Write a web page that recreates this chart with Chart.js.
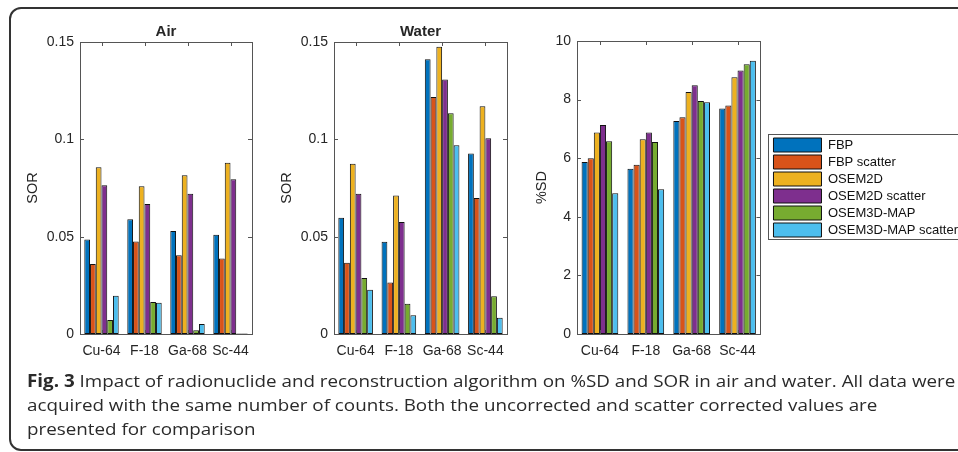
<!DOCTYPE html>
<html lang="en">
<head>
  <meta charset="UTF-8">
  <title>Fig. 3</title>
  <script src="https://cdn.jsdelivr.net/npm/chart.js"></script>
  <style>
    html, body { margin: 0; padding: 0; background: #fff; }
    body { width: 958px; height: 452px; position: relative; overflow: hidden; }
    .frame {
      position: absolute; left: 9px; top: 7px; width: 1000px; height: 444px;
      border: 2px solid #333; border-radius: 12px; box-sizing: border-box;
    }
    canvas { position: absolute; top: 0; }
    #airChart { left: 0; }
    #waterChart { left: 254px; }
    #sdChart { left: 497px; }
    .caption {
      position: absolute; left: 27px; top: 369px;
      font-family: 'Liberation Sans Narrow', 'Open Sans', sans-serif;
      font-size: 17px; line-height: 24px; color: #2a2a2a;
      white-space: nowrap; transform-origin: 0 0;
    }
    .caption span { display: inline-block; }
  </style>
</head>
<body>
  <div class="frame"></div>
  <canvas id="airChart" width="262" height="370"></canvas>
  <canvas id="waterChart" width="263" height="370"></canvas>
  <canvas id="sdChart" width="471" height="370"></canvas>
  <div class="caption" id="caption">
    <div><span id="line1"><b>Fig. 3</b> Impact of radionuclide and reconstruction algorithm on %SD and SOR in air and water. All data were</span></div>
    <div>acquired with the same number of counts. Both the uncorrected and scatter corrected values are</div>
    <div>presented for comparison</div>
  </div>

  <script>
    const nuclides = ['Cu-64', 'F-18', 'Ga-68', 'Sc-44'];
    const methods = ['FBP', 'FBP scatter', 'OSEM2D', 'OSEM2D scatter', 'OSEM3D-MAP', 'OSEM3D-MAP scatter'];
    const colors = ['#0072BD', '#D95319', '#EDB120', '#7E2F8E', '#77AC30', '#4DBEEE'];

    // one row per method, values for Cu-64, F-18, Ga-68, Sc-44
    const airSOR = [
      [0.0486, 0.0590, 0.0529, 0.0510],
      [0.0359, 0.0475, 0.0405, 0.0388],
      [0.0856, 0.0759, 0.0815, 0.0880],
      [0.0764, 0.0668, 0.0721, 0.0795],
      [0.0072, 0.0165, 0.0019, 0.0003],
      [0.0196, 0.0160, 0.0051, 0.0002]
    ];
    const waterSOR = [
      [0.0597, 0.0474, 0.1412, 0.0927],
      [0.0366, 0.0264, 0.1217, 0.0698],
      [0.0875, 0.0711, 0.1476, 0.1170],
      [0.0721, 0.0575, 0.1308, 0.1006],
      [0.0288, 0.0156, 0.1134, 0.0194],
      [0.0227, 0.0096, 0.0970, 0.0084]
    ];
    const percentSD = [
      [5.87, 5.64, 7.27, 7.70],
      [6.00, 5.78, 7.40, 7.80],
      [6.88, 6.65, 8.26, 8.76],
      [7.13, 6.88, 8.49, 8.99],
      [6.58, 6.55, 7.95, 9.21],
      [4.80, 4.94, 7.91, 9.33]
    ];

    const sorTicks = [0, 0.05, 0.1, 0.15];
    const sdTicks = [0, 2, 4, 6, 8, 10];

    const textColor = '#262626';
    const fontFamily = "'Liberation Sans', Arial, sans-serif";

    // MATLAB-style box with inward ticks on all four sides
    const boxTicks = {
      id: 'boxTicks',
      afterDatasetsDraw(chart) {
        const { ctx, chartArea: a, scales: { x, y } } = chart;
        ctx.save();
        ctx.strokeStyle = '#555';
        ctx.lineWidth = 1;
        ctx.beginPath();
        y.ticks.forEach(t => {
          const py = Math.round(y.getPixelForValue(t.value)) + 0.5;
          ctx.moveTo(a.left, py); ctx.lineTo(a.left + 4, py);
          ctx.moveTo(a.right, py); ctx.lineTo(a.right - 4, py);
        });
        x.ticks.forEach((t, i) => {
          const px = Math.round(x.getPixelForTick(i)) + 0.5;
          ctx.moveTo(px, a.bottom); ctx.lineTo(px, a.bottom - 4);
          ctx.moveTo(px, a.top); ctx.lineTo(px, a.top + 4);
        });
        ctx.stroke();
        ctx.strokeRect(Math.round(a.left) + 0.5, Math.round(a.top) + 0.5,
          Math.round(a.right - a.left), Math.round(a.bottom - a.top));
        ctx.restore();
      }
    };

    // border round the legend, like the MATLAB legend box
    const legendFrame = {
      id: 'legendFrame',
      afterDraw(chart) {
        const boxes = chart.legend && chart.legend.legendHitBoxes;
        if (!boxes || !boxes.length) return;
        const first = boxes[0], last = boxes[boxes.length - 1];
        const { ctx } = chart;
        const top = Math.round(first.top - 4) + 0.5;
        const bottom = Math.round(last.top + last.height + 2) + 0.5;
        ctx.save();
        ctx.strokeStyle = '#555';
        ctx.lineWidth = 1;
        ctx.strokeRect(Math.round(first.left - 5) + 0.5, top, chart.width, bottom - top);
        ctx.restore();
      }
    };

    function makeChart(id, rows, ticks, yMax, yTitle, opts) {
      const datasets = rows.map((values, i) => ({
        label: methods[i],
        data: values,
        backgroundColor: colors[i],
        borderColor: '#111',
        borderWidth: 1,
        borderSkipped: false,
        categoryPercentage: 0.8,
        barPercentage: 1.0
      }));

      const scales = {
        x: {
          grid: { display: false, drawTicks: false },
          border: { display: false },
          ticks: {
            color: textColor, font: { family: fontFamily, size: 14 },
            padding: 9, maxRotation: 0, minRotation: 0, autoSkip: false
          },
          afterFit(s) { s.height = 36; }
        },
        y: {
          min: 0, max: yMax,
          grid: { display: false, drawTicks: false },
          border: { display: false },
          afterBuildTicks(s) { s.ticks = ticks.map(v => ({ value: v })); },
          ticks: {
            color: textColor, font: { family: fontFamily, size: 14 }, padding: 6,
            callback: v => String(v)
          },
          title: {
            display: true, text: yTitle, color: textColor,
            font: { family: fontFamily, size: 14.5 },
            padding: { top: opts.yTitlePad, bottom: 0 }
          },
          afterFit(s) { s.width = 80; }
        }
      };

      if (opts.legend) {
        // empty spacer axis that keeps the legend clear of the plot box
        scales.y2 = {
          position: 'right',
          grid: { display: false, drawTicks: false },
          border: { display: false },
          ticks: { display: false },
          afterFit(s) { s.width = opts.legendGap; }
        };
      }

      return new Chart(document.getElementById(id), {
        type: 'bar',
        data: { labels: nuclides, datasets },
        options: {
          responsive: false,
          animation: false,
          events: [],
          layout: { padding: opts.padding },
          scales,
          plugins: {
            title: {
              display: !!opts.title,
              text: opts.title,
              fullSize: false,
              color: textColor,
              font: { family: fontFamily, size: 15, weight: 'bold' },
              padding: { top: 23, bottom: 1 }
            },
            legend: {
              display: !!opts.legend,
              position: 'right',
              fullSize: false,
              maxWidth: 400,
              labels: {
                boxWidth: 48, boxHeight: 14, padding: 3,
                color: '#111', font: { family: fontFamily, size: 13 }
              }
            },
            tooltip: { enabled: false }
          }
        },
        plugins: opts.legend ? [boxTicks, legendFrame] : [boxTicks]
      });
    }

    makeChart('airChart', airSOR, sorTicks, 0.15, 'SOR', {
      title: 'Air', yTitlePad: 24.3,
      padding: { top: 0, right: 10, bottom: 0, left: 0 }
    });
    makeChart('waterChart', waterSOR, sorTicks, 0.15, 'SOR', {
      title: 'Water', yTitlePad: 24,
      padding: { top: 0, right: 10, bottom: 0, left: 0 }
    });
    makeChart('sdChart', percentSD, sdTicks, 10, '%SD', {
      yTitlePad: 36.3, legend: true, legendGap: 10,
      padding: { top: 41, right: 0, bottom: 0, left: 0 }
    });

    // stretch caption so the first line spans the same width as in the figure
    const line1 = document.getElementById('line1');
    const k = 928 / line1.getBoundingClientRect().width;
    document.getElementById('caption').style.transform = 'scaleX(' + k.toFixed(3) + ')';
  </script>
</body>
</html>
